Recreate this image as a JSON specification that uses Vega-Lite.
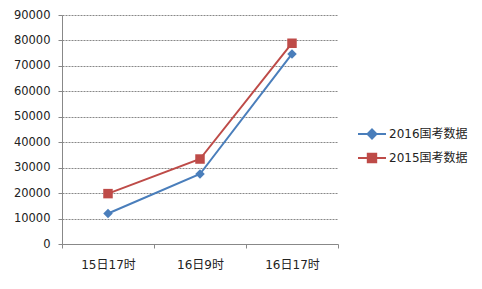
{
  "$schema": "https://vega.github.io/schema/vega-lite/v6.json",
  "autosize": {"type": "none"},
  "padding": {"left": 62, "top": 15, "right": 144, "bottom": 45},
  "width": 276,
  "height": 229,
  "background": "#ffffff",
  "data": {
    "values": [
      {"time": "15日17时", "series": "2016国考数据", "value": 12000},
      {"time": "16日9时", "series": "2016国考数据", "value": 27500},
      {"time": "16日17时", "series": "2016国考数据", "value": 74700},
      {"time": "15日17时", "series": "2015国考数据", "value": 19800},
      {"time": "16日9时", "series": "2015国考数据", "value": 33400},
      {"time": "16日17时", "series": "2015国考数据", "value": 78900}
    ]
  },
  "encoding": {
    "x": {
      "field": "time", "type": "nominal", "sort": null, "title": null,
      "scale": {"type": "band", "paddingInner": 0, "paddingOuter": 0},
      "axis": {"labelAngle": 0, "tickBand": "extent", "tickSize": 4, "labelPadding": 11, "grid": false,
               "domainColor": "#888888", "tickColor": "#888888", "labelColor": "#222222",
               "labelFont": "DejaVu Sans, Noto Sans CJK SC", "labelFontSize": 12}
    },
    "y": {
      "field": "value", "type": "quantitative", "title": null,
      "scale": {"domain": [0, 90000], "nice": false},
      "axis": {"values": [0,10000,20000,30000,40000,50000,60000,70000,80000,90000], "format": "d",
               "tickSize": 4, "labelPadding": 8, "domainColor": "#888888", "tickColor": "#888888",
               "gridColor": "#888888", "gridDash": [2, 1], "labelColor": "#222222",
               "labelFont": "DejaVu Sans", "labelFontSize": 11.5}
    },
    "color": {
      "field": "series", "type": "nominal",
      "scale": {"domain": ["2016国考数据", "2015国考数据"], "range": ["#4a7ebb", "#be4b48"]},
      "legend": {
        "title": null, "orient": "none", "legendX": 295, "legendY": 104,
        "symbolSize": 784, "symbolStrokeWidth": 2, "rowPadding": -4,
        "labelFont": "DejaVu Sans, Noto Sans CJK SC", "labelFontSize": 12, "labelColor": "#222222",
        "labelOffset": 2,
        "encode": {
          "symbols": {
            "update": {
              "shape": {"signal": "datum.label == '2016国考数据' ? 'M-1,0H1M0,-0.32L0.32,0L0,0.32L-0.32,0Z' : 'M-1,0H1M-0.3,-0.3H0.3V0.3H-0.3Z'"},
              "strokeWidth": {"value": 2}
            }
          }
        }
      }
    }
  },
  "layer": [
    {"mark": {"type": "line", "strokeWidth": 2}},
    {
      "transform": [{"filter": "datum.series == '2016国考数据'"}],
      "mark": {"type": "point", "filled": true, "opacity": 1, "shape": "diamond", "size": 90}
    },
    {
      "transform": [{"filter": "datum.series == '2015国考数据'"}],
      "mark": {"type": "point", "filled": true, "opacity": 1, "shape": "square", "size": 90}
    }
  ],
  "config": {"view": {"stroke": null}}
}
